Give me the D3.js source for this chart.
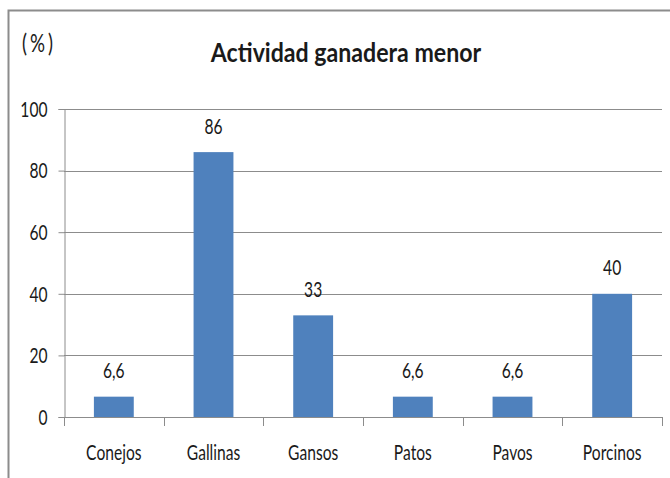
<!DOCTYPE html>
<html><head><meta charset="utf-8">
<script src="https://cdn.jsdelivr.net/npm/d3@7"></script>
<style>
body{margin:0;background:#fff;}
text{font-family:Lato,"Open Sans",sans-serif;fill:#1a1a1a;}
</style></head>
<body><svg id="c" width="670" height="478"></svg>
<script>
const categories = ["Conejos","Gallinas","Gansos","Patos","Pavos","Porcinos"];
const values = [6.6, 86, 33, 6.6, 6.6, 40];
const valueLabels = ["6,6","86","33","6,6","6,6","40"];
const yTicks = [0,20,40,60,80,100];
const title = "Actividad ganadera menor";
const unitLabel = "(%)";

(function(){
const svg = d3.select("#c");
svg.append("rect").attr("x",8.5).attr("y",10.5).attr("width",700).attr("height",500)
  .attr("fill","none").attr("stroke","#8c8c8c").attr("stroke-width",2);

const pL=64, pR=662, pT=109, pB=417;
const x = d3.scaleBand().domain(categories).range([pL,pR]).paddingInner(0.6).paddingOuter(0.3);
const xb = d3.scaleBand().domain(categories).range([pL,pR]);
const y = d3.scaleLinear().domain([0,100]).range([pB,pT]);

function put(g, px, py, txt, size, anchor, sx, weight){
  return g.append("text").attr("transform",`translate(${px},${py}) scale(${sx},1)`)
    .attr("text-anchor",anchor).style("font-size",size+"px")
    .style("font-weight",weight||"normal").text(txt);
}

svg.append("g").selectAll("line").data(yTicks.filter(d=>d>0)).join("line")
  .attr("x1",pL).attr("x2",pR).attr("y1",d=>Math.round(y(d))+0.5).attr("y2",d=>Math.round(y(d))+0.5)
  .attr("stroke","#8c8c8c").attr("stroke-width",1);

const yAxis = svg.append("g").attr("transform",`translate(${pL+0.5},0)`)
  .call(d3.axisLeft(y).tickValues(yTicks).tickSize(6).tickFormat(d3.format("d")));
yAxis.select(".domain").attr("stroke","#8c8c8c");
yAxis.selectAll(".tick line").attr("stroke","#8c8c8c");
yAxis.selectAll(".tick text").remove();
const yl = svg.append("g");
yTicks.forEach(t=>put(yl, 47.5, y(t)+7.8, d3.format("d")(t), 22, "end", 0.71));

const xAxis = svg.append("g").attr("transform",`translate(0,${pB+0.5})`)
  .call(d3.axisBottom(xb).tickSize(0));
xAxis.select(".domain").attr("stroke","#8c8c8c").attr("d",`M${pL},0H${pR}`);
xAxis.selectAll(".tick text").remove();
const xl = svg.append("g");
categories.forEach(c=>put(xl, xb(c)+xb.bandwidth()/2, 459.5, c, 22, "middle", 0.71));
const bounds = categories.map(c=>xb(c)).concat([pR]);
svg.append("g").selectAll("line").data(bounds).join("line")
  .attr("x1",d=>Math.round(d)+0.5).attr("x2",d=>Math.round(d)+0.5)
  .attr("y1",pB).attr("y2",pB+9).attr("stroke","#8c8c8c");

svg.append("g").selectAll("rect").data(values).join("rect")
  .attr("x",(d,i)=>x(categories[i])).attr("width",x.bandwidth())
  .attr("y",d=>y(d)).attr("height",d=>pB-y(d)).attr("fill","#4F81BD");

const vl = svg.append("g");
values.forEach((v,i)=>put(vl, x(categories[i])+x.bandwidth()/2, y(v)-18.5, valueLabels[i], 22, "middle", 0.71));

put(svg, 346, 62, title, 26, "middle", 0.89, "bold");
put(svg, 22, 52, unitLabel, 25, "start", 0.75).style("letter-spacing","4px");
})();
</script></body></html>
